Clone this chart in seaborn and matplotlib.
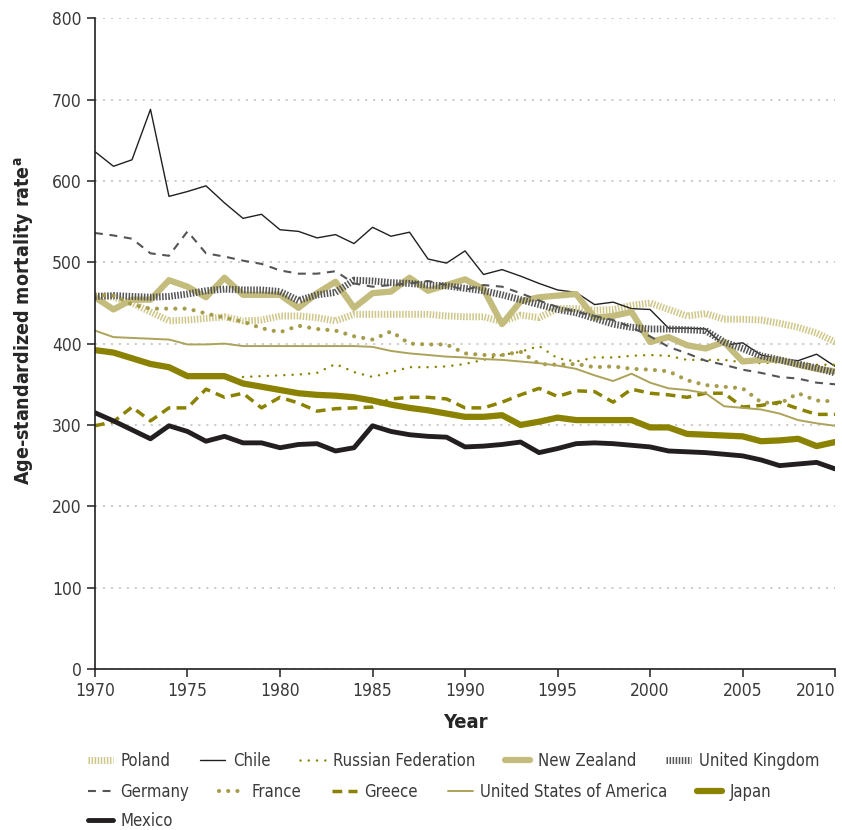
import numpy as np
import pandas as pd
import matplotlib
matplotlib.use("Agg")
import matplotlib.pyplot as plt
from matplotlib import font_manager as fm
import seaborn as sns

# Данные (возрастно-стандартизированная смертность)
years = list(range(1970, 2011))

chile = [636, 618, 626, 688, 581, 587, 594, 573, 554, 559, 540, 538, 530, 534, 523, 543, 532, 537, 504, 499,
         514, 485, 491, 483, 474, 466, 463, 448, 451, 443, 442, 419, 419, 418, 398, 401, 386, 381, 379, 387, 372]
germany = [536, 533, 529, 511, 508, 538, 511, 507, 502, 498, 490, 486, 486, 489, 474, 470, 472, 474, 477, 472,
           466, 472, 470, 462, 453, 445, 439, 434, 429, 420, 409, 396, 388, 379, 374, 368, 364, 359, 357, 352, 350]
poland = [459, 457, 450, 439, 428, 429, 431, 433, 428, 429, 434, 434, 432, 428, 436, 436, 436, 436, 436, 434,
          433, 433, 427, 435, 432, 443, 443, 441, 442, 447, 450, 442, 434, 437, 430, 430, 429, 425, 420, 413, 402]
new_zealand = [457, 442, 454, 454, 478, 470, 457, 481, 460, 460, 460, 444, 462, 476, 444, 462, 464, 481, 465, 472,
               479, 467, 424, 452, 457, 459, 461, 432, 434, 439, 402, 408, 398, 394, 402, 378, 380, 380, 374, 369, 366]
uk = [458, 459, 458, 457, 458, 461, 465, 467, 466, 466, 464, 453, 460, 463, 478, 477, 475, 474, 472, 471,
      468, 465, 460, 454, 448, 442, 438, 431, 424, 420, 418, 418, 417, 416, 402, 394, 385, 380, 375, 370, 364]
france = [460, 459, 448, 443, 443, 443, 437, 432, 427, 419, 414, 422, 418, 416, 409, 405, 415, 400, 399, 399,
          388, 386, 386, 390, 375, 374, 375, 371, 372, 369, 368, 366, 355, 349, 347, 345, 328, 326, 339, 330, 329]
russia_years = list(range(1978, 2011))
russia = [359, 360, 361, 362, 364, 375, 365, 359, 365, 371, 371, 372, 375, 380, 386, 390, 397, 382, 378, 383,
          383, 385, 386, 385, 380, 380, 380, 377, 376, 377, 376, 374, 374]
greece = [299, 304, 322, 305, 321, 321, 344, 334, 339, 321, 334, 327, 317, 320, 321, 322, 332, 334, 334, 332,
          321, 321, 328, 337, 345, 335, 342, 341, 328, 344, 339, 337, 334, 339, 339, 322, 324, 328, 320, 313, 313]
usa = [416, 408, 407, 406, 405, 399, 399, 400, 397, 397, 397, 397, 397, 397, 397, 396, 391, 388, 386, 384,
       383, 381, 380, 378, 376, 373, 369, 361, 354, 363, 352, 345, 343, 339, 323, 321, 319, 314, 306, 302, 299]
japan = [392, 389, 382, 375, 371, 360, 360, 360, 351, 347, 343, 339, 337, 336, 334, 330, 325, 321, 318, 314,
         310, 310, 312, 300, 304, 309, 306, 306, 306, 306, 297, 297, 289, 288, 287, 286, 280, 281, 283, 274, 279]
mexico = [315, 305, 294, 283, 299, 292, 280, 286, 278, 278, 272, 276, 277, 268, 272, 299, 292, 288, 286, 285,
          273, 274, 276, 279, 266, 271, 277, 278, 277, 275, 273, 268, 267, 266, 264, 262, 257, 250, 252, 254, 246]

OLIVE = "#8a8200"
KHAKI = "#c4bc7c"
LIGHT = "#cfc78a"
MID = "#a69d4c"
DARK = "#555555"
BLACK = "#231f20"

# (название, x, y, цвет, толщина, стиль линии)
series = [
    ("Poland", years, poland, LIGHT, 5.0, (0, (0.22, 0.22))),
    ("Chile", years, chile, BLACK, 1.0, "-"),
    ("Russian Federation", russia_years, russia, OLIVE, 1.8, (0, (0.01, 3.3))),
    ("New Zealand", years, new_zealand, KHAKI, 4.5, "-"),
    ("United Kingdom", years, uk, DARK, 5.0, (0, (0.22, 0.22))),
    ("Germany", years, germany, DARK, 1.5, (0, (3.8, 3.2))),
    ("France", years, france, MID, 3.0, (0, (0.01, 2.2))),
    ("Greece", years, greece, OLIVE, 2.5, (0, (2.8, 1.8))),
    ("United States of America", years, usa, "#aca35a", 1.4, "-"),
    ("Japan", years, japan, OLIVE, 4.5, "-"),
    ("Mexico", years, mexico, BLACK, 3.5, "-"),
]

sns.set_style("white")

# узкий шрифт, если есть; иначе запасной
ttf = fm.fontManager.ttflist
names = {f.name for f in ttf}
stretch = "normal"
if "Liberation Sans Narrow" in names:
    fam = "Liberation Sans Narrow"
elif any(f.name == "DejaVu Sans" and f.stretch in ("condensed", "semi-condensed") for f in ttf):
    fam, stretch = "DejaVu Sans", "condensed"
elif "Roboto Condensed" in names:
    fam = "Roboto Condensed"
else:
    fam = "Roboto"
plt.rcParams['font.family'] = [fam, 'DejaVu Sans']
plt.rcParams['font.stretch'] = stretch
plt.rcParams['mathtext.fontset'] = 'custom'
plt.rcParams['mathtext.rm'] = fam
plt.rcParams['mathtext.bf'] = fam + ':bold'

fig = plt.figure(figsize=(8.42, 8.30), dpi=100)
ax = fig.add_axes([0.1128, 0.194, 0.879, 0.784])

handles = {}
for name, xs, ys, col, lw, ls in series:
    df = pd.DataFrame({"Year": xs, "Rate": ys})
    sns.lineplot(data=df, x="Year", y="Rate", ax=ax, color=col, linewidth=lw,
                 linestyle=ls, dash_capstyle="round" if "Russian" in name or name == "France" else "butt",
                 label=name, legend=False)
    handles[name] = ax.get_lines()[-1]

ax.set_xlim(1970, 2010)
ax.set_ylim(0, 800)
ax.set_xticks(range(1970, 2011, 5))
ax.set_yticks(range(0, 801, 100))
ax.yaxis.grid(True, color="#c9c9c9", linestyle=(0, (1.2, 3.2)), linewidth=1.3)
ax.xaxis.grid(False)
ax.set_axisbelow(True)

for s in ["top", "right"]:
    ax.spines[s].set_visible(False)
for s in ["left", "bottom"]:
    ax.spines[s].set_color(BLACK)
    ax.spines[s].set_linewidth(1.2)

ax.tick_params(axis="both", direction="out", length=6, width=1.1, color=BLACK,
               labelsize=12.5, labelcolor="#3a3a3a", left=True, bottom=True)
ax.get_xticklabels()[-1].set_horizontalalignment("right")
ax.set_xlabel("Year", fontsize=14.5, fontweight="bold", labelpad=9)
ax.set_ylabel(r"Age-standardized mortality rate$^{\mathbf{a}}$", fontsize=14,
              fontweight="bold")
ax.yaxis.set_label_coords(-0.08, 0.535)

rows = [
    ["Poland", "Chile", "Russian Federation", "New Zealand", "United Kingdom"],
    ["Germany", "France", "Greece", "United States of America", "Japan"],
    ["Mexico"],
]
tops = [0.094, 0.057, 0.022]
for row, top in zip(rows, tops):
    fig.legend([handles[n] for n in row], row, loc="upper left", bbox_to_anchor=(0.1045, top),
               ncol=len(row), frameon=False, fontsize=12, handlelength=1.5, handletextpad=0.45,
               columnspacing=1.8, borderaxespad=0, borderpad=0, labelcolor="#3a3a3a")

fig.savefig("out.png", dpi=100)
